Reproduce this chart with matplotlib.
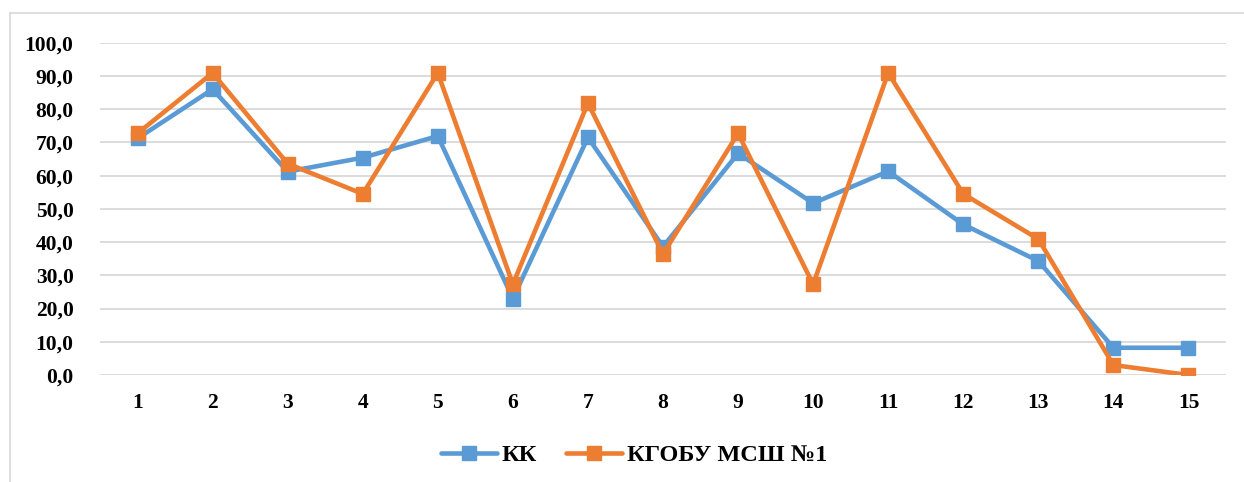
import numpy as np
import matplotlib.pyplot as plt
from matplotlib.ticker import FuncFormatter
from matplotlib.lines import Line2D

categories = list(range(1, 16))
kk = [71.2, 86.0, 61.2, 65.4, 71.9, 23.0, 71.5, 38.6, 66.7, 51.7, 61.3, 45.3, 34.3, 8.2, 8.2]
kgobu = [72.7, 90.9, 63.6, 54.5, 90.9, 27.3, 81.8, 36.4, 72.7, 27.3, 90.9, 54.5, 40.9, 3.0, 0.0]
series_names = ['КК', 'КГОБУ МСШ №1']

plt.rcParams['font.family'] = ['Liberation Serif', 'DejaVu Serif']

fig = plt.figure(figsize=(12.44, 4.82), dpi=100)
ax = fig.add_axes([100 / 1244, 1 - 375 / 482, 1126 / 1244, (375 - 42.7) / 482])

# light frame of the chart area (only left and top visible)
fig.add_artist(Line2D([9.5 / 1244, 9.5 / 1244], [0, 1 - 13 / 482], color='#D9D9D9', lw=1.2))
fig.add_artist(Line2D([9.5 / 1244, 1], [1 - 13 / 482, 1 - 13 / 482], color='#D9D9D9', lw=1.2))

blue = '#5B9BD5'
orange = '#ED7D31'
ax.plot(categories, kk, color=blue, lw=3.3, marker='s', markersize=10, label=series_names[0],
        zorder=3, solid_capstyle='round')
ax.plot(categories, kgobu, color=orange, lw=3.3, marker='s', markersize=10, label=series_names[1],
        zorder=4, solid_capstyle='round')

ax.set_xlim(0.5, 15.5)
ax.set_ylim(0, 100)
ax.set_yticks(np.arange(0, 101, 10))
ax.set_xticks(categories)
ax.yaxis.set_major_formatter(FuncFormatter(lambda v, p: f'{v:.1f}'.replace('.', ',')))
ax.grid(axis='y', color='#D9D9D9', lw=1.3)
ax.set_axisbelow(True)
for s in ax.spines.values():
    s.set_visible(False)
ax.tick_params(axis='both', length=0, labelsize=15.5)
ax.tick_params(axis='y', pad=19)
ax.tick_params(axis='x', pad=13)
for lab in ax.get_xticklabels() + ax.get_yticklabels():
    lab.set_fontweight('bold')

fig.legend(loc='center', bbox_to_anchor=(634 / 1244, 1 - 455 / 482), ncol=2, frameon=False,
           prop={'weight': 'bold', 'size': 17.5}, handlelength=2.3, columnspacing=1.2,
           handletextpad=0.2)

fig.savefig('out.png', dpi=100)
